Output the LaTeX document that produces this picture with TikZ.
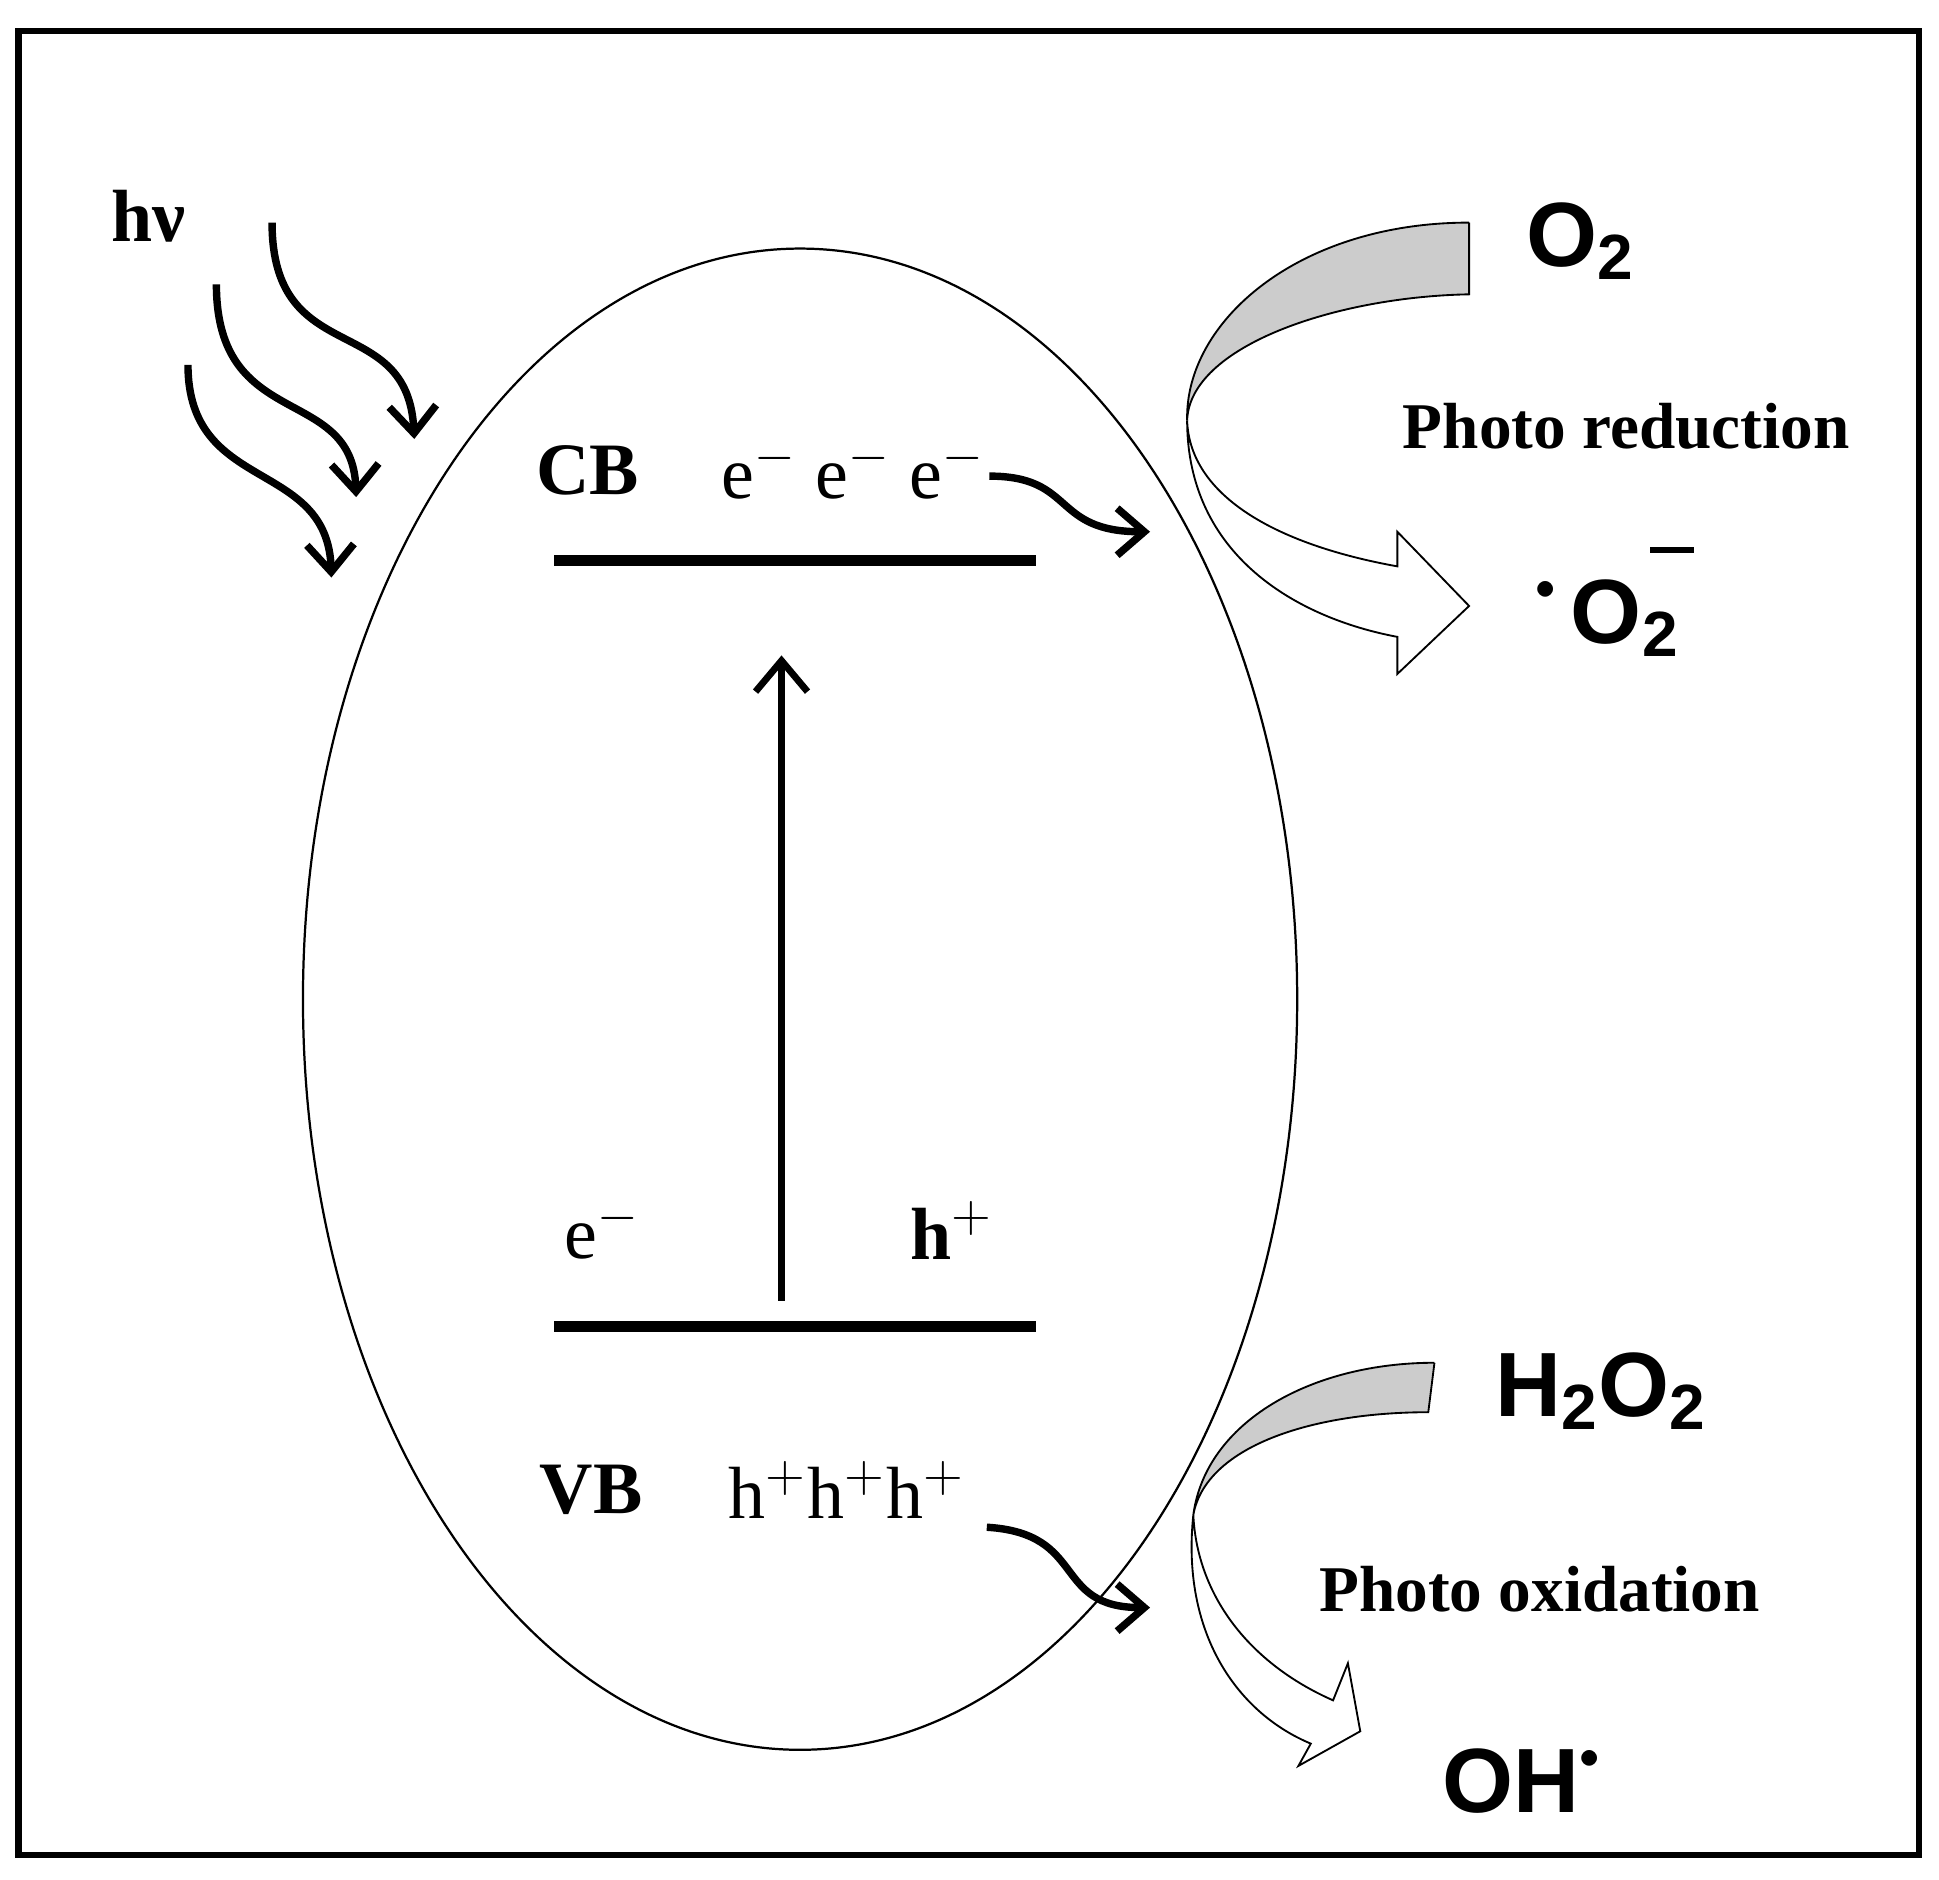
\documentclass[tikz,border=0pt]{standalone}
\usetikzlibrary{arrows.meta}
\usepackage{fontspec}
\setmainfont{Liberation Serif}
\newfontfamily\sansf{Liberation Sans}
\newcommand{\rdot}{\raisebox{0.9ex}{\scalebox{0.45}{$\bullet$}}}
\begin{document}
\begin{tikzpicture}[x={(0.01cm,0)},y={(0,-0.01cm)},
  lbl/.style={font=\fontsize{17}{20}\selectfont\bfseries},
  car/.style={font=\fontsize{17}{20}\selectfont},
  chem/.style={font=\sansf\fontsize{21}{24}\selectfont\bfseries},
  proc/.style={font=\fontsize{15}{18}\selectfont\bfseries},
  wave/.style={line width=0.06cm,-{Straight Barb[length=0.22cm,width=0.38cm,line width=0.06cm]}},
  band/.style={line width=0.09cm},
  big/.style={draw=black,line width=0.015cm}]
\useasboundingbox (0,0) rectangle (1568,1520);
\draw[line width=0.05cm] (15,25) rectangle (1552,1500);
\draw[line width=0.018cm] (647,808) ellipse [x radius=402, y radius=607];
\draw[band] (448,453) -- (838,453);
\draw[band] (448,1073) -- (838,1073);
\coordinate (vb) at (632,1052); \coordinate (cb) at (632,530);
\draw[line width=0.055cm,-{Straight Barb[length=0.25cm,width=0.42cm,line width=0.055cm]}] (vb) -- (cb);
\node[lbl] (hv) at (120,175) {hν};
\node[lbl] (CB) at (475,380) {CB};
\node[car] (ee) at (690,380) {e$^-$ e$^-$ e$^-$};
\node[car] (e1) at (487,995) {e$^-$};
\node[lbl] (h1) at (770,995) {h$^+$};
\node[lbl] (VB) at (478,1205) {VB};
\node[car] (hh) at (685,1205) {h$^+$h$^+$h$^+$};
\draw[wave] (220,180) .. controls (220,300) and (330,250) .. (335,355);
\draw[wave] (175,230) .. controls (175,350) and (285,310) .. (288,402);
\draw[wave] (152,295) .. controls (152,400) and (265,370) .. (268,467);
\draw[wave] (800,385) .. controls (870,385) and (850,430) .. (930,430);
\draw[wave] (798,1235) .. controls (880,1240) and (850,1300) .. (930,1300);
\draw[big,fill=black!20] (1188,180) -- (1188,238) .. controls (1080,240) and (962,280) .. (960,340) .. controls (958,260) and (1050,180) .. (1188,180);
\draw[big,fill=white] (960,340) .. controls (960,450) and (1050,500) .. (1130,515) -- (1130,545) -- (1188,490) -- (1130,430) -- (1130,458) .. controls (1030,440) and (962,400) .. (960,340);
\draw[big,fill=black!20] (1160,1102) -- (1155,1142) .. controls (1060,1142) and (975,1170) .. (965,1225) .. controls (975,1150) and (1060,1102) .. (1160,1102);
\draw[big,fill=white] (965,1225) .. controls (955,1320) and (1000,1385) .. (1060,1410) -- (1050,1428) -- (1100,1400) -- (1090,1345) -- (1078,1375) .. controls (1010,1345) and (968,1290) .. (965,1225);
\node[chem] (o2) at (1278,195) {O\textsubscript{2}};
\node[proc] (pr) at (1315,345) {Photo reduction};
\node[chem] (so2) at (1300,500) {\rdot\,O\textsubscript{2}};
\node[chem] at (1352,445) {\rule{0.35cm}{0.05cm}};
\node[chem] (h2o2) at (1295,1125) {H\textsubscript{2}O\textsubscript{2}};
\node[proc] (po) at (1245,1285) {Photo oxidation};
\node[chem] (oh) at (1230,1440) {OH\rdot};
\end{tikzpicture}
\end{document}
